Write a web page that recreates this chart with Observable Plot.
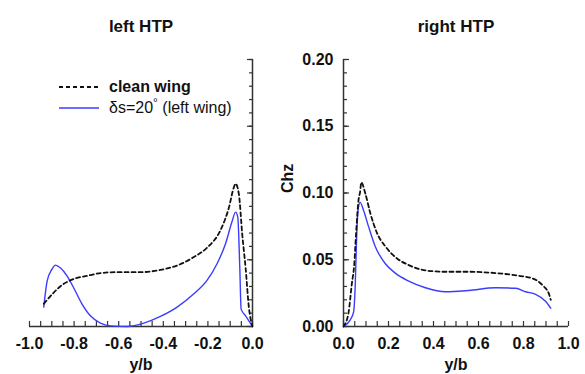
<!DOCTYPE html>
<html>
<head>
<meta charset="utf-8">
<script src="https://cdn.jsdelivr.net/npm/d3@7"></script>
<script src="https://cdn.jsdelivr.net/npm/@observablehq/plot@0.6"></script>
<style>
  html, body { margin: 0; padding: 0; background: #fff; }
  #wrap { position: relative; width: 585px; height: 374px; font-family: "Liberation Sans", Arial, sans-serif; }
  #wrap svg { position: absolute; top: 0; overflow: visible; }
  #legend { position: absolute; left: 59px; top: 76px; font-size: 16px; color: #111; line-height: 21px; }
  #legend .row { display: flex; align-items: center; height: 21px; white-space: nowrap; }
  #legend svg { position: static; margin-right: 10px; }
  #legend sup { font-size: 12px; vertical-align: 6px; line-height: 0; }
</style>
</head>
<body>
<div id="wrap"></div>
<script>
// ---- data ----
const leftCleanX = [-0.936,-0.846,-0.80,-0.741,-0.681,-0.607,-0.502,-0.413,-0.338,-0.263,-0.204,-0.144,-0.106,-0.084,-0.076,-0.061,-0.046,-0.031,-0.016,0];
const leftCleanY = [0.017,0.032,0.0357,0.038,0.040,0.0407,0.0407,0.0424,0.0457,0.052,0.059,0.072,0.089,0.104,0.107,0.099,0.069,0.044,0.014,0];
const leftFlapX = [-0.936,-0.921,-0.899,-0.884,-0.862,-0.832,-0.802,-0.765,-0.727,-0.682,-0.637,-0.563,-0.487,-0.413,-0.338,-0.263,-0.204,-0.159,-0.121,-0.091,-0.076,-0.066,-0.057,-0.051,-0.031,0];
const leftFlapY = [0.0145,0.034,0.043,0.046,0.044,0.038,0.029,0.017,0.008,0.0025,0.0005,0,0.0025,0.0075,0.0145,0.0245,0.0345,0.047,0.062,0.079,0.0857,0.082,0.044,0.013,0.008,0];
const rightCleanX = [0,0.022,0.037,0.048,0.056,0.067,0.074,0.079,0.097,0.119,0.149,0.186,0.230,0.290,0.364,0.453,0.557,0.676,0.780,0.840,0.884,0.914,0.921];
const rightCleanY = [0,0.010,0.032,0.047,0.070,0.095,0.101,0.108,0.0996,0.085,0.070,0.060,0.052,0.046,0.042,0.041,0.041,0.040,0.038,0.036,0.031,0.024,0.020];
const rightFlapX = [0,0.030,0.045,0.052,0.059,0.067,0.074,0.089,0.111,0.141,0.186,0.230,0.290,0.364,0.453,0.557,0.676,0.765,0.810,0.854,0.899,0.921];
const rightFlapY = [0,0.005,0.011,0.030,0.070,0.090,0.093,0.087,0.075,0.060,0.047,0.040,0.034,0.029,0.026,0.027,0.029,0.0286,0.026,0.024,0.0187,0.0137];

const leftXMajor = [-1.0,-0.8,-0.6,-0.4,-0.2,0.0];
const rightXMajor = [0.0,0.2,0.4,0.6,0.8,1.0];
const yMajor = [0.00,0.05,0.10,0.15,0.20];
const leftXMinor = d3.range(0,21).map(i => -1 + i*0.05);
const rightXMinor = d3.range(0,21).map(i => i*0.05);
const yMinor = d3.range(0,21).map(i => i*0.01);

const titles = ["left HTP","right HTP"];
const xLabel = "y/b", yLabel = "Chz";
const seriesNames = ["clean wing","δs=20"];

const BLUE = "#3c3cff";
const AX = "#333";
const font = `"Liberation Sans", Arial, sans-serif`;
const H = 374, MT = 59, MB = 48, FRAME_H = H - MT - MB;

const toRows = (xs, ys) => xs.map((x,i) => ({x, y: ys[i]}));

function panel({width, mL, mR, xDomain, xMajor, xMinor, yAnchor, showYLabels, clean, flap, title}) {
  const tickLen = 5 * 0.2 / FRAME_H; // 5 px tick length in y units
  const marks = [
    Plot.axisX({ticks: xMajor, tickSize: 0, tickPadding: 11, tickFormat: d => d.toFixed(1),
                fontSize: 16, fontWeight: "bold", fill: "#111", label: null}),
    Plot.axisY({anchor: yAnchor, ticks: yMinor, tickSize: -4, tickFormat: () => "", stroke: AX, strokeWidth: 1.2, label: null}),
    Plot.axisY({anchor: yAnchor, ticks: yMajor, tickSize: -6, tickFormat: () => "", stroke: AX, strokeWidth: 1.2, label: null}),
    Plot.ruleY([0], {stroke: AX, strokeWidth: 1.5}),
    Plot.ruleX([0], {stroke: AX, strokeWidth: 1.5}),
    Plot.ruleX(xMinor, {x: d => d, y1: 0, y2: tickLen, stroke: AX, strokeWidth: 1.2}),
    Plot.line(flap, {x: "x", y: "y", stroke: BLUE, strokeWidth: 1.4, curve: "monotone-x"}),
    Plot.line(clean, {x: "x", y: "y", stroke: "#111", strokeWidth: 1.8, strokeDasharray: "4,3", curve: "monotone-x"}),
    Plot.text([title], {frameAnchor: "top", dy: -40, text: d => d, fontSize: 17, fontWeight: "bold", fill: "#111"}),
    Plot.text([xLabel], {frameAnchor: "bottom", dy: 43, text: d => d, fontSize: 16, fontWeight: "bold", fill: "#111"})
  ];
  if (showYLabels) {
    marks.push(Plot.axisY({anchor: "left", ticks: yMajor, tickSize: 0, tickPadding: 10, tickFormat: d => d.toFixed(2),
                           fontSize: 16, fontWeight: "bold", fill: "#111", label: null}));
    marks.push(Plot.text([yLabel], {frameAnchor: "left", dx: -56, rotate: -90, text: d => d, fontSize: 16, fontWeight: "bold", fill: "#111"}));
  }
  return Plot.plot({
    width, height: H,
    marginLeft: mL, marginRight: mR, marginTop: MT, marginBottom: MB,
    style: {fontFamily: font, background: "transparent", overflow: "visible"},
    x: {domain: xDomain, axis: null},
    y: {domain: [0, 0.2], axis: null},
    marks
  });
}

const wrap = document.getElementById("wrap");
const left = panel({width: 270, mL: 29, mR: 18, xDomain: [-1, 0], xMajor: leftXMajor, xMinor: leftXMinor,
  yAnchor: "right", showYLabels: false, clean: toRows(leftCleanX, leftCleanY), flap: toRows(leftFlapX, leftFlapY), title: titles[0]});
left.style.left = "0px";
const right = panel({width: 315, mL: 73, mR: 17, xDomain: [0, 1], xMajor: rightXMajor, xMinor: rightXMinor,
  yAnchor: "left", showYLabels: true, clean: toRows(rightCleanX, rightCleanY), flap: toRows(rightFlapX, rightFlapY), title: titles[1]});
right.style.left = "270px";
wrap.appendChild(left);
wrap.appendChild(right);

// legend
const legend = document.createElement("div");
legend.id = "legend";
legend.innerHTML = `
  <div class="row"><svg width="40" height="6"><line x1="0" y1="3" x2="40" y2="3" stroke="#111" stroke-width="1.8" stroke-dasharray="4,3"/></svg><b>${seriesNames[0]}</b></div>
  <div class="row"><svg width="40" height="6"><line x1="0" y1="3" x2="40" y2="3" stroke="${BLUE}" stroke-width="1.6"/></svg><span>${seriesNames[1]}<sup>°</sup> (left wing)</span></div>`;
wrap.appendChild(legend);
</script>
</body>
</html>
